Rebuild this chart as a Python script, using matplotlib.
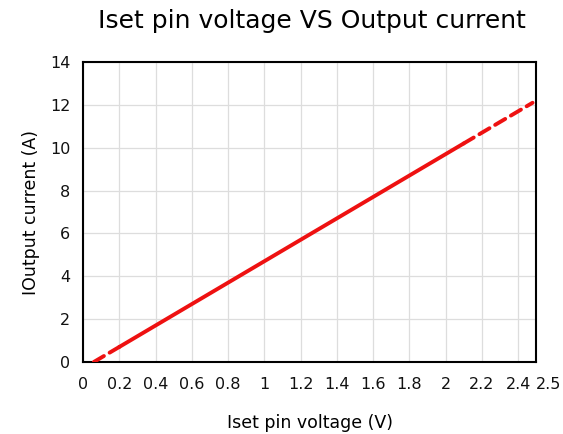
import matplotlib
matplotlib.use("Agg")
import matplotlib.pyplot as plt
import matplotlib.transforms as mtransforms

# Data
solid_v = [0.2, 2.1]
solid_i = [0.7, 10.2]
low_v = [0.06, 0.2]
low_i = [0.0, 0.7]
high_v = [2.1, 2.48]
high_i = [10.2, 12.1]
x_ticks = [0, 0.2, 0.4, 0.6, 0.8, 1.0, 1.2, 1.4, 1.6, 1.8, 2.0, 2.2, 2.4, 2.5]
x_labels = ["0", "0.2", "0.4", "0.6", "0.8", "1", "1.2", "1.4", "1.6", "1.8", "2", "2.2", "2.4", "2.5"]
y_ticks = [0, 2, 4, 6, 8, 10, 12, 14]

plt.rcParams['font.family'] = ['DejaVu Sans']

fig = plt.figure(figsize=(5.63, 4.34), dpi=100)
ax = fig.add_axes([0.1474, 0.166, 0.805, 0.691])

red = '#ee1111'
ax.plot(solid_v, solid_i, color=red, lw=2.8, solid_capstyle='round', zorder=3)
ax.plot(low_v, low_i, color=red, lw=2.8, linestyle=(0, (3.0, 1.7)), dash_capstyle='round', zorder=3)
ax.plot(high_v, high_i, color=red, lw=2.8, linestyle=(0, (3.0, 1.7)), dash_capstyle='round', zorder=3)

ax.set_xlim(0, 2.5)
ax.set_ylim(0, 14)
ax.set_xticks(x_ticks)
ax.set_xticklabels(x_labels)
ax.set_yticks(y_ticks)
ax.tick_params(length=0, labelsize=11.5, colors='#111111')
ax.tick_params(axis='x', pad=11)
ax.tick_params(axis='y', pad=9)
ax.grid(True, color='#dddddd', lw=0.9)
ax.set_axisbelow(True)
for s in ax.spines.values():
    s.set_color('black')
    s.set_linewidth(1.5)

# shift last x label (2.5) a bit to the right, as in reference
lbls = ax.get_xticklabels()
off = mtransforms.ScaledTranslation(12/100, 0, fig.dpi_scale_trans)
lbls[-1].set_transform(lbls[-1].get_transform() + off)
ax.get_xgridlines()[-1].set_visible(False)

ax.set_xlabel("Iset pin voltage (V)", fontsize=12.5, labelpad=16)
ax.set_ylabel("IOutput current (A)", fontsize=12.5, labelpad=7)
fig.suptitle("Iset pin voltage VS Output current", fontsize=18, x=0.554, y=0.98)

fig.savefig("out.png", dpi=100)
